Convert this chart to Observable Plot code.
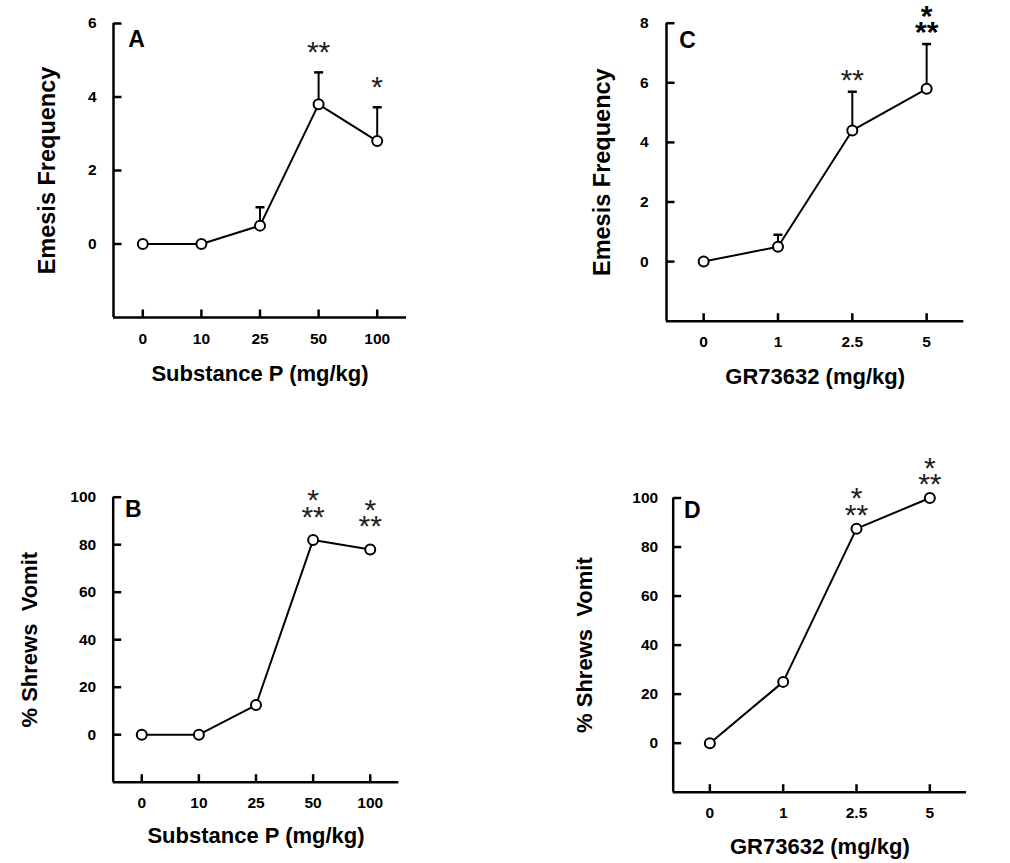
<!DOCTYPE html>
<html>
<head>
<meta charset="utf-8">
<script src="https://cdn.jsdelivr.net/npm/d3@7"></script>
<script src="https://cdn.jsdelivr.net/npm/@observablehq/plot@0.6"></script>
<style>
  html, body { margin: 0; padding: 0; background: #fff; }
  #root { position: relative; width: 1010px; height: 863px; background: #fff; overflow: hidden; }
  #root > svg { position: absolute; overflow: visible; }
</style>
</head>
<body>
<div id="root"></div>
<script>
// ---- Data ----
const spDoses = ["0", "10", "25", "50", "100"];
const grDoses = ["0", "1", "2.5", "5"];

// Panel A: emesis frequency, Substance P
const emesisSP = [0, 0, 0.5, 3.8, 2.8];
const emesisSPerr = [0, 0, 0.5, 0.87, 0.92];
const emesisSPsig = ["", "", "", "**", "*"];

// Panel B: % shrews vomit, Substance P
const vomitSP = [0, 0, 12.5, 82, 78];
const vomitSPsig = ["", "", "", "*\n**", "*\n**"];

// Panel C: emesis frequency, GR73632
const emesisGR = [0, 0.5, 4.4, 5.8];
const emesisGRerr = [0, 0.4, 1.3, 1.5];
const emesisGRsig = ["", "", "**", "*\n**"];
const emesisGRsigBold = [false, false, false, true];

// Panel D: % shrews vomit, GR73632
const vomitGR = [0, 25, 87.5, 100];
const vomitGRsig = ["", "", "*\n**", "*\n**"];

const emesisSPTicks = [0, 2, 4, 6];
const emesisGRTicks = [0, 2, 4, 6, 8];
const vomitTicks = [0, 20, 40, 60, 80, 100];

// ---- Drawing ----
const FONT = "'Liberation Sans', Arial, Helvetica, sans-serif";
const capSym = {draw(ctx) { ctx.moveTo(-4.5, 0); ctx.lineTo(4.5, 0); }};
const tickRight = {draw(ctx) { ctx.moveTo(0, 0); ctx.lineTo(8, 0); }};
const tickUp = {draw(ctx) { ctx.moveTo(0, 0); ctx.lineTo(0, -8); }};
const root = document.getElementById("root");

function panel(cfg) {
  const n = cfg.doses.length;
  const idx = d3.range(n);
  const data = idx.map(i => ({
    i,
    v: cfg.values[i],
    e: cfg.errs ? cfg.errs[i] : 0,
    sig: cfg.sig[i],
    bold: cfg.bold ? cfg.bold[i] : false
  }));
  const top = d => d.v + d.e;
  const starFont = 30;
  const plot = Plot.plot({
    width: cfg.w,
    height: cfg.h,
    marginLeft: cfg.ml,
    marginRight: cfg.mr,
    marginTop: cfg.mt,
    marginBottom: cfg.mb,
    x: {domain: [-0.5, n - 0.5]},
    y: {domain: cfg.yDomain},
    style: {fontFamily: FONT, fontSize: "15.5px", background: "transparent", color: "black", overflow: "visible"},
    marks: [
      // axis lines
      Plot.ruleX([-0.5], {stroke: "black", strokeWidth: 2.5}),
      Plot.ruleY([cfg.yDomain[0]], {stroke: "black", strokeWidth: 2.5}),
      // inward ticks
      Plot.dot(cfg.yTicks, {y: d => d, frameAnchor: "left", symbol: tickRight, stroke: "black", fill: "none", strokeWidth: 2.5}),
      Plot.dot(idx, {x: d => d, frameAnchor: "bottom", symbol: tickUp, stroke: "black", fill: "none", strokeWidth: 2.5}),
      // tick labels
      Plot.axisY(cfg.yTicks, {tickSize: 0, tickPadding: cfg.yPad, fontSize: 15.5, fontWeight: "bold", label: null}),
      Plot.axisX(idx, {tickSize: 0, tickPadding: 15, fontSize: 15.5, fontWeight: "bold", tickFormat: i => cfg.doses[i], label: null}),
      // error bars
      Plot.ruleX(data.filter(d => d.e > 0), {x: "i", y1: "v", y2: top, stroke: "black", strokeWidth: 2}),
      Plot.dot(data.filter(d => d.e > 0), {x: "i", y: top, symbol: capSym, stroke: "black", fill: "none", strokeWidth: 2.5}),
      // line + markers
      Plot.line(data, {x: "i", y: "v", stroke: "black", strokeWidth: 2}),
      Plot.dot(data, {x: "i", y: "v", r: 5, fill: "white", stroke: "black", strokeWidth: 2}),
      // significance stars
      Plot.text(data.filter(d => d.sig && !d.bold), {x: "i", y: top, text: "sig", dy: cfg.sigDy, lineAnchor: "bottom", lineHeight: 0.55, fontSize: starFont, fill: "#222"}),
      Plot.text(data.filter(d => d.sig && d.bold), {x: "i", y: top, text: "sig", dy: cfg.sigDy, lineAnchor: "bottom", lineHeight: 0.55, fontSize: starFont, fontWeight: "bold", fill: "black"}),
      // panel letter
      Plot.text([cfg.letter], {frameAnchor: "top-left", dx: cfg.ldx, dy: cfg.ldy, text: d => d, fontSize: 23, fontWeight: "bold", lineAnchor: "middle", textAnchor: "middle"}),
      // axis titles
      Plot.text([cfg.ylabel], {frameAnchor: "left", dx: cfg.ylx, text: d => d, rotate: -90, fontSize: cfg.ylFont, fontWeight: "bold", lineAnchor: "middle", textAnchor: "middle"}),
      Plot.text([cfg.xlabel], {frameAnchor: "bottom", dy: cfg.xly, text: d => d, fontSize: 22, fontWeight: "bold", lineAnchor: "middle", textAnchor: "middle"})
    ]
  });
  plot.style.left = cfg.left + "px";
  plot.style.top = cfg.top + "px";
  root.append(plot);
}

panel({
  left: 0, top: 0, w: 430, h: 400, ml: 113, mr: 24, mt: 23, mb: 83,
  doses: spDoses, values: emesisSP, errs: emesisSPerr, sig: emesisSPsig,
  yDomain: [-2, 6], yTicks: emesisSPTicks, yPad: 17, sigDy: -10,
  letter: "A", ldx: 23, ldy: 16, ylabel: "Emesis Frequency", ylx: -66, ylFont: 23.5,
  xlabel: "Substance P (mg/kg)", xly: 56
});

panel({
  left: 540, top: 0, w: 440, h: 400, ml: 126, mr: 16.7, mt: 22.7, mb: 79.3,
  doses: grDoses, values: emesisGR, errs: emesisGRerr, sig: emesisGRsig, bold: emesisGRsigBold,
  yDomain: [-2, 8], yTicks: emesisGRTicks, yPad: 18, sigDy: -2,
  letter: "C", ldx: 21, ldy: 17, ylabel: "Emesis Frequency", ylx: -64, ylFont: 23.5,
  xlabel: "GR73632 (mg/kg)", xly: 56
});

panel({
  left: 0, top: 440, w: 430, h: 423, ml: 112.7, mr: 31.7, mt: 56.7, mb: 81.3,
  doses: spDoses, values: vomitSP, errs: null, sig: vomitSPsig,
  yDomain: [-20, 100], yTicks: vomitTicks, yPad: 17, sigDy: -13,
  letter: "B", ldx: 20, ldy: 12.5, ylabel: "% Shrews  Vomit", ylx: -83, ylFont: 22,
  xlabel: "Substance P (mg/kg)", xly: 53.5
});

panel({
  left: 540, top: 440, w: 470, h: 423, ml: 132.7, mr: 44, mt: 57.5, mb: 71.3,
  doses: grDoses, values: vomitGR, errs: null, sig: vomitGRsig,
  yDomain: [-20, 100], yTicks: vomitTicks, yPad: 15, sigDy: -4,
  letter: "D", ldx: 19, ldy: 13, ylabel: "% Shrews  Vomit", ylx: -88, ylFont: 22,
  xlabel: "GR73632 (mg/kg)", xly: 55
});
</script>
</body>
</html>
